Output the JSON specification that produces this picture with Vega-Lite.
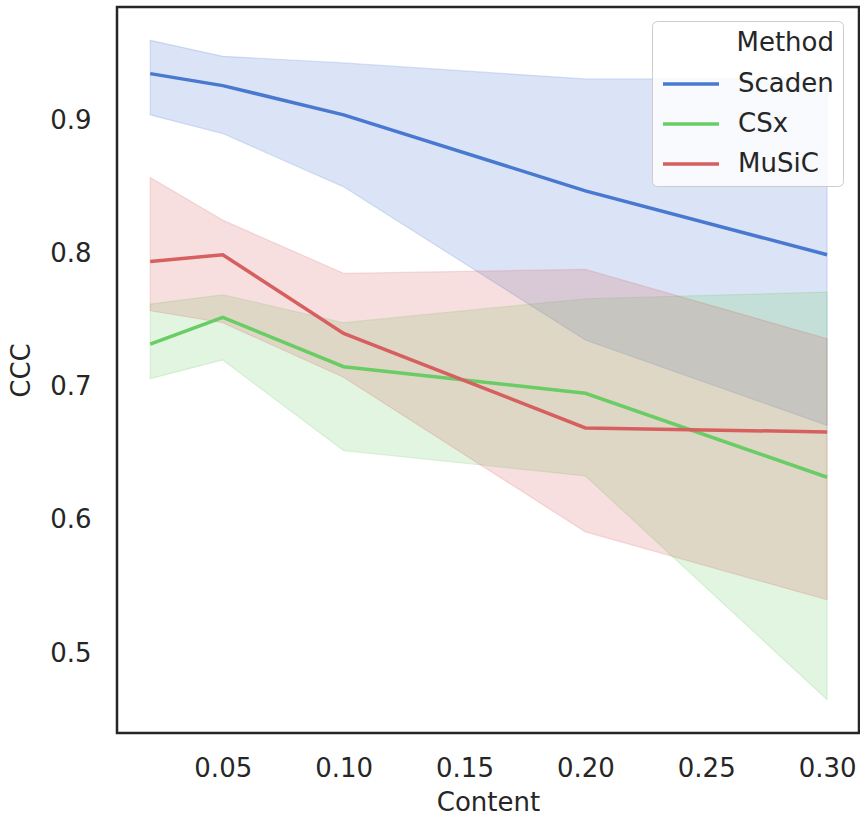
{
  "$schema": "https://vega.github.io/schema/vega-lite/v6.json",
  "width": 742,
  "height": 726,
  "autosize": {"type": "none"},
  "padding": {"left": 117, "top": 7, "right": 1, "bottom": 87},
  "background": "white",
  "config": {
    "font": "DejaVu Sans",
    "view": {"stroke": "#262626", "strokeWidth": 2.5},
    "axis": {
      "grid": false,
      "domain": false,
      "ticks": false,
      "labelFont": "DejaVu Sans",
      "labelFontSize": 26,
      "labelColor": "#262626",
      "titleFont": "DejaVu Sans",
      "titleFontSize": 26,
      "titleFontWeight": "normal",
      "titleColor": "#262626"
    },
    "legend": {
      "labelFont": "DejaVu Sans",
      "labelFontSize": 26,
      "labelColor": "#262626",
      "titleFont": "DejaVu Sans",
      "titleFontSize": 26,
      "titleFontWeight": "normal",
      "titleColor": "#262626"
    }
  },
  "data": {
    "values": [
      {"Method": "Scaden", "Content": 0.02, "CCC": 0.935, "lo": 0.904, "hi": 0.960},
      {"Method": "Scaden", "Content": 0.05, "CCC": 0.926, "lo": 0.890, "hi": 0.948},
      {"Method": "Scaden", "Content": 0.10, "CCC": 0.904, "lo": 0.850, "hi": 0.943},
      {"Method": "Scaden", "Content": 0.20, "CCC": 0.847, "lo": 0.735, "hi": 0.931},
      {"Method": "Scaden", "Content": 0.30, "CCC": 0.799, "lo": 0.671, "hi": 0.931},
      {"Method": "CSx", "Content": 0.02, "CCC": 0.732, "lo": 0.706, "hi": 0.762},
      {"Method": "CSx", "Content": 0.05, "CCC": 0.752, "lo": 0.720, "hi": 0.769},
      {"Method": "CSx", "Content": 0.10, "CCC": 0.715, "lo": 0.652, "hi": 0.748},
      {"Method": "CSx", "Content": 0.20, "CCC": 0.695, "lo": 0.633, "hi": 0.766},
      {"Method": "CSx", "Content": 0.30, "CCC": 0.632, "lo": 0.465, "hi": 0.771},
      {"Method": "MuSiC", "Content": 0.02, "CCC": 0.794, "lo": 0.757, "hi": 0.857},
      {"Method": "MuSiC", "Content": 0.05, "CCC": 0.799, "lo": 0.748, "hi": 0.825},
      {"Method": "MuSiC", "Content": 0.10, "CCC": 0.740, "lo": 0.707, "hi": 0.785},
      {"Method": "MuSiC", "Content": 0.20, "CCC": 0.669, "lo": 0.591, "hi": 0.788},
      {"Method": "MuSiC", "Content": 0.30, "CCC": 0.666, "lo": 0.540, "hi": 0.736}
    ]
  },
  "resolve": {"legend": {"color": "independent", "stroke": "independent"}},
  "layer": [
    {
      "mark": {"type": "area", "fillOpacity": 0.2, "strokeOpacity": 0.2, "strokeWidth": 1.2},
      "encoding": {
        "x": {"field": "Content", "type": "quantitative"},
        "y": {"field": "lo", "type": "quantitative"},
        "y2": {"field": "hi"},
        "color": {"field": "Method", "type": "nominal", "legend": null,
          "scale": {"domain": ["Scaden", "CSx", "MuSiC"], "range": ["#4878d0", "#6acc64", "#d65f5f"]}},
        "stroke": {"field": "Method", "type": "nominal", "legend": null,
          "scale": {"domain": ["Scaden", "CSx", "MuSiC"], "range": ["#4878d0", "#6acc64", "#d65f5f"]}},
        "detail": {"field": "Method"}
      }
    },
    {
      "mark": {"type": "line", "strokeWidth": 3.5},
      "encoding": {
        "x": {"field": "Content", "type": "quantitative", "title": "Content",
          "scale": {"domain": [0.00625, 0.3132], "nice": false, "zero": false},
          "axis": {"values": [0.05, 0.10, 0.15, 0.20, 0.25, 0.30], "format": ".2f", "labelPadding": 22, "titlePadding": 8}},
        "y": {"field": "CCC", "type": "quantitative", "title": "CCC",
          "scale": {"domain": [0.44, 0.985], "nice": false, "zero": false},
          "axis": {"values": [0.5, 0.6, 0.7, 0.8, 0.9], "format": ".1f", "labelPadding": 26, "titlePadding": 15}},
        "color": {"field": "Method", "type": "nominal",
          "scale": {"domain": ["Scaden", "CSx", "MuSiC"], "range": ["#4878d0", "#6acc64", "#d65f5f"]},
          "legend": {
            "title": "Method",
            "orient": "none",
            "legendX": 535,
            "legendY": 14,
            "padding": 9,
            "fillColor": "rgba(255,255,255,0.8)",
            "strokeColor": "#cccccc",
            "cornerRadius": 5,
            "titleAnchor": "end",
            "titlePadding": 12,
            "rowPadding": 11,
            "symbolType": "M-1,0H3",
            "symbolSize": 784,
            "symbolStrokeWidth": 3.5,
            "labelOffset": 45
          }
        }
      }
    }
  ]
}
